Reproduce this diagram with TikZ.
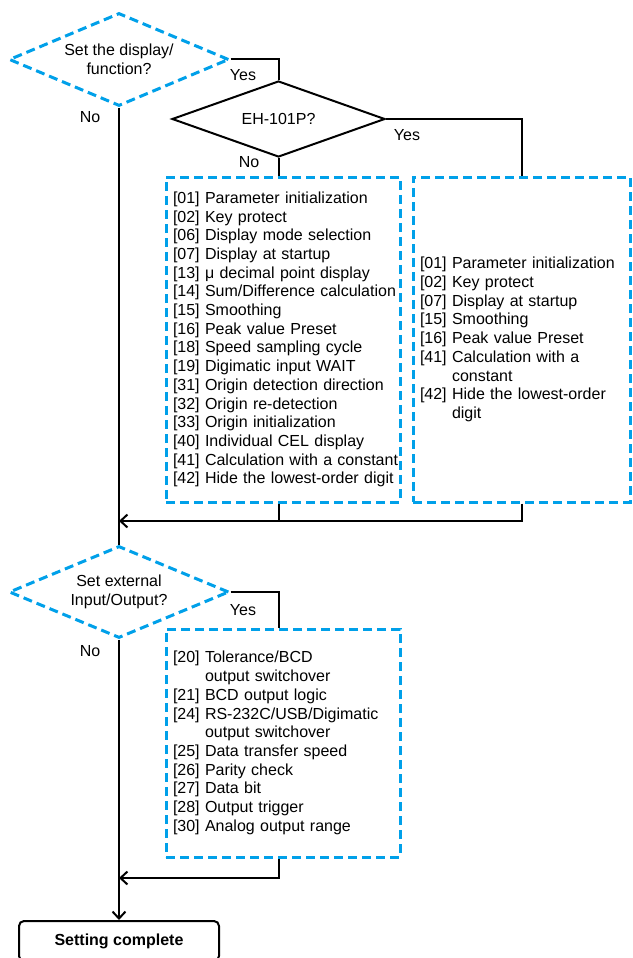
\documentclass[tikz,border=0pt]{standalone}
\usepackage{fontspec}
\setmainfont{Liberation Sans}
\usepackage{tikz}
\usetikzlibrary{positioning, arrows.meta, calc, shapes.geometric}
\definecolor{setblue}{RGB}{0, 160, 233}
\newcommand{\subln}{\phantom{[00]\ }}
\newcommand{\sixteen}{\fontsize{16}{18.7}\selectfont}
\tikzset{
  txt/.style={font=\sixteen},
  askdash/.style={diamond, aspect=2.3, draw=setblue, line width=3pt,
                  dash pattern=on 9pt off 5pt, align=center, inner sep=0pt, txt},
  asksolid/.style={diamond, aspect=2.8, draw=black, line width=2pt,
                   align=center, inner sep=0pt, txt},
  lst/.style={rectangle, draw=setblue, line width=3pt, dash pattern=on 9pt off 5pt,
              align=left, inner xsep=7pt, inner ysep=0pt, text width=#1, txt},
  endbox/.style={rectangle, rounded corners=5pt, draw=black, line width=2pt,
                 minimum width=200pt, minimum height=40pt,
                 font=\sixteen\bfseries},
  flow/.style={draw=black, line width=2pt},
  arr/.style={flow, -{Straight Barb[length=7pt, width=13pt, line width=2pt]}},
  lbl/.style={txt},
}

\begin{document}
\begin{tikzpicture}[x=1pt, y=-1pt]
  \useasboundingbox (0,0) rectangle (632,958);

  % ---- display / function ----
  \node[askdash, minimum width=220pt, minimum height=93pt] (setdisp) at (119,59.5)
    {Set the display/\\function?};
  \node[asksolid, minimum width=213pt, minimum height=76pt] (model) at (278.5,119)
    {EH-101P?};

  \node[lst=220pt, minimum height=325pt] (stdlist) at (283,339.5)
    {{}[01] Parameter initialization\\
     {}[02] Key protect\\
     {}[06] Display mode selection\\
     {}[07] Display at startup\\
     {}[13] μ decimal point display\\
     \mbox{[14] Sum/Difference calculation}\\
     {}[15] Smoothing\\
     {}[16] Peak value Preset\\
     {}[18] Speed sampling cycle\\
     {}[19] Digimatic input WAIT\\
     {}[31] Origin detection direction\\
     {}[32] Origin re-detection\\
     {}[33] Origin initialization\\
     {}[40] Individual CEL display\\
     \mbox{[41] Calculation with a constant}\\
     \mbox{[42] Hide the lowest-order digit}};
  \node[lst=203pt, inner xsep=7pt, minimum height=325pt] (p101list) at (521.5,339.5)
    {{}[01] Parameter initialization\\
     {}[02] Key protect\\
     {}[07] Display at startup\\
     {}[15] Smoothing\\
     {}[16] Peak value Preset\\
     {}[41] Calculation with a\\
     \subln constant\\
     {}[42] Hide the lowest-order\\
     \subln digit};

  \draw[flow] (setdisp.east) -| (model.north);
  \draw[flow] (model.south) -- (model.south |- stdlist.north);
  \draw[flow] (model.east) -| (p101list.north);
  \coordinate (join1) at (setdisp.south |- 0,521);
  \draw[flow] (model.south |- stdlist.south) -- (model.south |- join1);
  \draw[arr] (p101list.south) |- (join1);

  \node[lbl] (yes1) at (243,75) {Yes};
  \node[lbl] (no1) at (90,117) {No};
  \node[lbl] (yes2) at (407,135) {Yes};
  \node[lbl] (no2) at (249,162) {No};

  % ---- external input / output ----
  \node[lst=220pt, minimum height=228pt] (iolist) at (283,743)
    {{}[20] Tolerance/BCD\\
     \subln output switchover\\
     {}[21] BCD output logic\\
     {}[24] RS-232C/USB/Digimatic\\
     \subln output switchover\\
     {}[25] Data transfer speed\\
     {}[26] Parity check\\
     {}[27] Data bit\\
     {}[28] Output trigger\\
     {}[30] Analog output range};

  \node[askdash, minimum width=220pt, minimum height=92pt] (setio) at (119,592)
    {Set external\\Input/Output?};
  \draw[flow] (setdisp.south) -- (setio.north);
  \draw[flow] (setio.east) -| (iolist.north -| model.south);
  \coordinate (join2) at (setio.south |- 0,878);
  \draw[arr] (iolist.south -| model.south) |- (join2);

  \node[lbl] (yes3) at (243,610) {Yes};
  \node[lbl] (no3) at (90,651) {No};

  % ---- end ----
  \node[endbox] (done) at (119,941) {Setting complete};
  \draw[arr] (setio.south) -- (done.north);
\end{tikzpicture}
\end{document}
